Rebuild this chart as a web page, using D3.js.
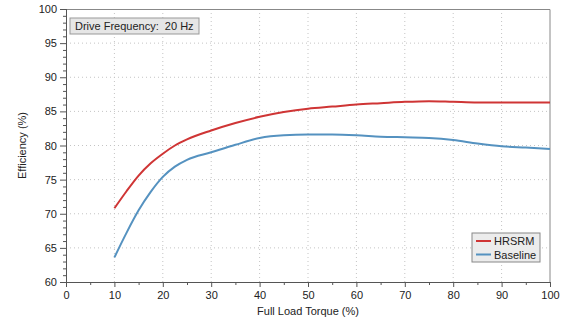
<!DOCTYPE html>
<html>
<head>
<meta charset="utf-8">
<script src="https://cdn.jsdelivr.net/npm/d3@7"></script>
<style>
	body { margin: 0; background: #fff; }
	text { font-family: "Liberation Sans", Arial, sans-serif; fill: #222; }
</style>
</head>
<body>
<div id="chart"></div>
<script>
var torque = [10, 12.5, 15, 17.5, 20, 22.5, 25, 30, 35, 40, 45, 50, 55, 60, 65, 70, 75, 80, 85, 90, 95, 100];
var hrsrm = [70.8, 73.3, 75.6, 77.4, 78.8, 80.0, 80.9, 82.2, 83.3, 84.2, 84.9, 85.4, 85.7, 86.0, 86.2, 86.4, 86.5, 86.4, 86.3, 86.3, 86.3, 86.3];
var baseline = [63.6, 67.2, 70.5, 73.2, 75.4, 76.9, 77.9, 79.0, 80.1, 81.1, 81.5, 81.6, 81.6, 81.5, 81.3, 81.2, 81.1, 80.8, 80.3, 79.9, 79.7, 79.5];
var xTicks = [0, 10, 20, 30, 40, 50, 60, 70, 80, 90, 100];
var yTicks = [60, 65, 70, 75, 80, 85, 90, 95, 100];
var seriesNames = ["HRSRM", "Baseline"];
var seriesColors = ["#cf3535", "#5592c0"];

var W = 569, H = 321;
var margin = { top: 9, right: 19, bottom: 39, left: 66 };
var width = W - margin.left - margin.right,
	height = H - margin.top - margin.bottom;

var svg = d3.select("#chart").append("svg")
	.attr("width", W)
	.attr("height", H);

var g = svg.append("g")
	.attr("transform", "translate(" + margin.left + "," + margin.top + ")");

var x = d3.scaleLinear().domain([0, 100]).range([0, width]),
	y = d3.scaleLinear().domain([60, 100]).range([height, 0]);

// dotted grid
g.append("g").selectAll("line")
	.data(xTicks.slice(1, -1))
	.enter().append("line")
	.attr("x1", d => x(d)).attr("x2", d => x(d))
	.attr("y1", 0).attr("y2", height)
	.attr("stroke", "#c4c4c4").attr("stroke-dasharray", "1,3");
g.append("g").selectAll("line")
	.data(yTicks.slice(1, -1))
	.enter().append("line")
	.attr("y1", d => y(d)).attr("y2", d => y(d))
	.attr("x1", 0).attr("x2", width)
	.attr("stroke", "#c4c4c4").attr("stroke-dasharray", "1,3");

// frame top / right
g.append("path")
	.attr("d", "M0,0.5H" + width + "V" + height)
	.attr("fill", "none").attr("stroke", "#888");

// axes: minor then major
var xMinor = d3.axisBottom(x).tickValues(d3.range(5, 100, 10)).tickSize(3).tickFormat("");
var yMinor = d3.axisLeft(y).tickValues(d3.range(61, 100).filter(v => v % 5)).tickSize(3).tickFormat("");
g.append("g").attr("transform", "translate(0," + height + ")").call(xMinor);
g.append("g").call(yMinor);

g.append("g")
	.attr("class", "axis axis--x")
	.attr("transform", "translate(0," + height + ")")
	.call(d3.axisBottom(x).tickValues(xTicks).tickSize(5).tickPadding(4));
g.append("g")
	.attr("class", "axis axis--y")
	.call(d3.axisLeft(y).tickValues(yTicks).tickSize(6).tickPadding(3));

svg.selectAll(".domain, .tick line").attr("stroke", "#555");
svg.selectAll(".tick text").attr("font-size", 11).attr("fill", "#222")
	.style("font-family", "'Liberation Sans', Arial, sans-serif");

// lines
var line = d3.line()
	.curve(d3.curveMonotoneX)
	.x(d => x(d[0]))
	.y(d => y(d[1]));

[hrsrm, baseline].forEach(function (vals, i) {
	g.append("path")
		.datum(torque.map((t, j) => [t, vals[j]]))
		.attr("fill", "none")
		.attr("stroke", seriesColors[i])
		.attr("stroke-width", 2)
		.attr("d", line);
});

// annotation box
var note = g.append("g").attr("transform", "translate(4,9)");
note.append("rect")
	.attr("width", 129).attr("height", 16)
	.attr("fill", "#e6e6e6").attr("stroke", "#999");
note.append("text")
	.attr("x", 5).attr("y", 12)
	.attr("font-size", 11)
	.attr("xml:space", "preserve")
	.text("Drive Frequency:  20 Hz");

// legend
var legend = g.append("g").attr("transform", "translate(" + (width - 78) + "," + (height - 49) + ")");
legend.append("rect")
	.attr("width", 68).attr("height", 29)
	.attr("fill", "#ececec").attr("stroke", "#888");
seriesNames.forEach(function (name, i) {
	var row = legend.append("g").attr("transform", "translate(0," + (8 + i * 13.5) + ")");
	row.append("line")
		.attr("x1", 4).attr("x2", 19)
		.attr("stroke", seriesColors[i]).attr("stroke-width", 2);
	row.append("text")
		.attr("x", 22).attr("y", 4)
		.attr("font-size", 11)
		.text(name);
});

// axis titles
svg.append("text")
	.attr("x", margin.left + width / 2)
	.attr("y", H - 6)
	.attr("text-anchor", "middle")
	.attr("font-size", 11)
	.text("Full Load Torque (%)");
svg.append("text")
	.attr("transform", "translate(26," + (margin.top + height / 2) + ") rotate(-90)")
	.attr("text-anchor", "middle")
	.attr("font-size", 11)
	.text("Efficiency (%)");
</script>
</body>
</html>
